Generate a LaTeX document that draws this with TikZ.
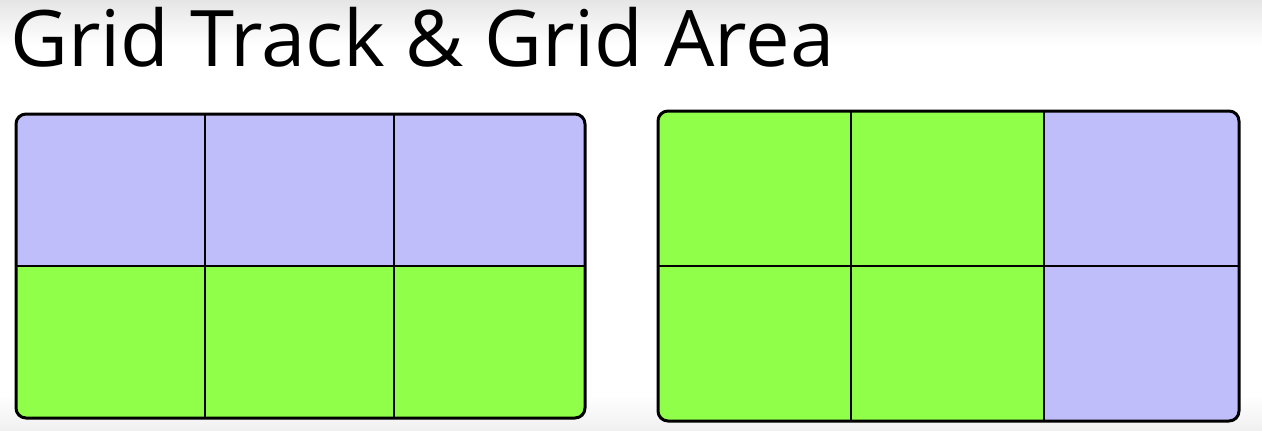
\documentclass[tikz,border=0pt]{standalone}
\usepackage{fontspec}
\setmainfont{Open Sans}
\definecolor{lavender}{RGB}{192,190,250}
\definecolor{lime}{RGB}{143,255,74}
\usetikzlibrary{positioning}

\begin{document}
\begin{tikzpicture}[x=1pt,y=-1pt,
  frame/.style={line width=3pt,rounded corners=10pt},
  track/.style={line width=2pt}]
\useasboundingbox (0,0) rectangle (1262,431);
\shade[top color=black!10,bottom color=white] (0,0) rectangle (1262,45);
\shade[top color=white,bottom color=black!6] (0,395) rectangle (1262,431);
\node[anchor=base west,inner sep=0pt,xscale=1.02,font=\fontsize{78}{80}\selectfont] (title) at (10,66) {Grid Track \& Grid Area};
% left grid
\begin{scope}
\clip[rounded corners=10pt] (16,114) rectangle (585,418);
\fill[lavender] (16,114) rectangle (585,266);
\fill[lime] (16,266) rectangle (585,418);
\end{scope}
\draw[track] (205,114) -- (205,418) (394,114) -- (394,418) (16,266) -- (585,266);
\draw[frame] (16,114) rectangle (585,418);
% right grid
\begin{scope}
\clip[rounded corners=10pt] (658,111) rectangle (1239,421);
\fill[lime] (658,111) rectangle (1044,421);
\fill[lavender] (1044,111) rectangle (1239,421);
\end{scope}
\draw[track] (851,111) -- (851,421) (1044,111) -- (1044,421) (658,266) -- (1239,266);
\draw[frame] (658,111) rectangle (1239,421);
\end{tikzpicture}
\end{document}
